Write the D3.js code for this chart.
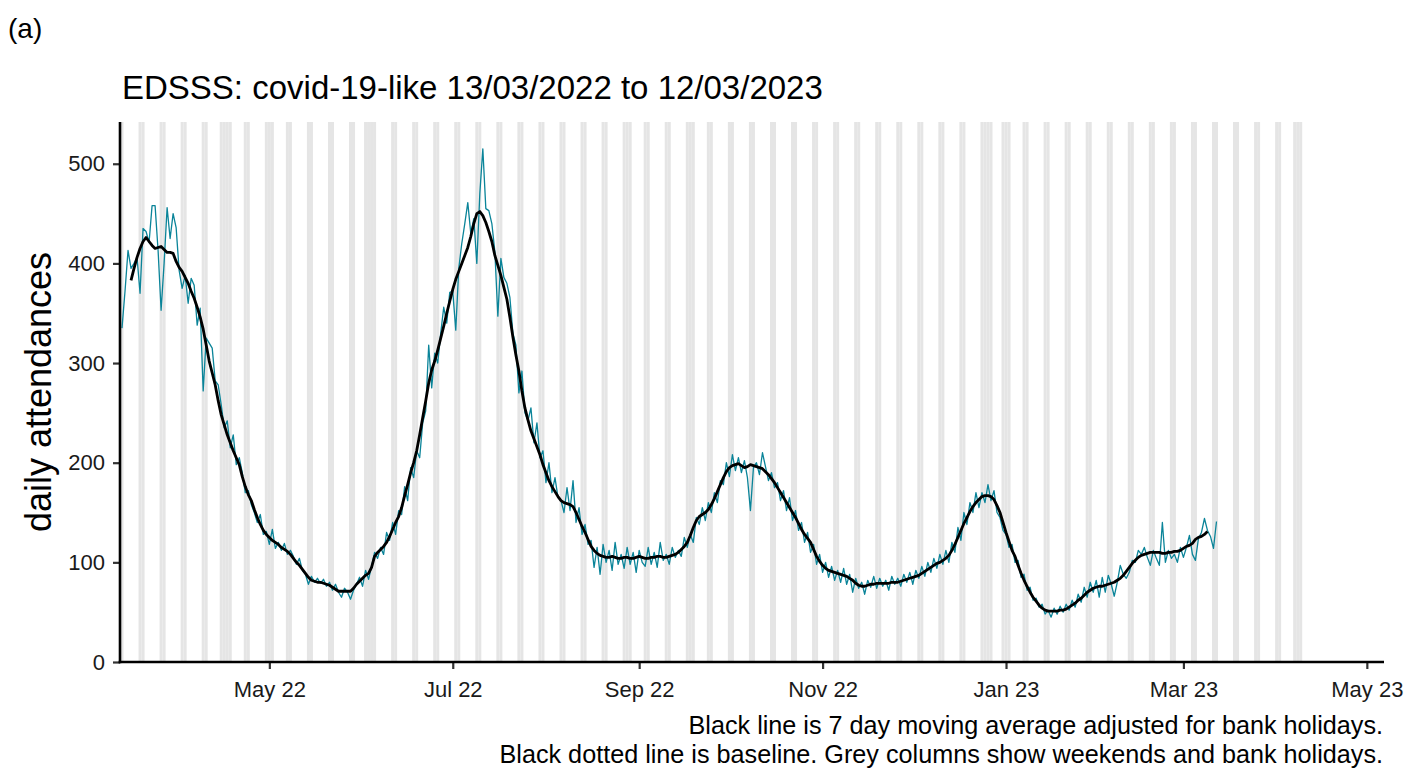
<!DOCTYPE html>
<html><head><meta charset="utf-8">
<script src="https://cdn.jsdelivr.net/npm/d3@7"></script>
<style>body{margin:0;background:#fff} svg{display:block;font-family:"Liberation Sans",Arial,sans-serif}</style>
</head><body><svg id="c" width="1422" height="769"></svg>
<script>
// ---------- data ----------
const startDate = "2022-03-13";
const dailyValues = [
335,372,413,395,400,406,370,435,432,421,
458,458,413,353,400,456,425,450,436,393,
375,388,360,385,378,338,355,272,325,320,
315,282,278,258,235,242,215,228,198,205,
190,170,172,158,150,140,148,128,131,118,
133,114,120,112,119,108,112,106,98,104,
92,88,78,86,80,84,79,83,76,80,
72,78,70,65,74,70,63,72,78,85,
76,92,83,96,110,104,115,108,130,122,
140,128,152,148,176,162,195,185,212,205,
240,252,318,275,310,300,330,356,340,371,
372,333,395,420,440,461,430,445,400,470,
515,455,453,440,412,347,405,386,380,366,
330,318,270,292,250,242,255,220,240,205,
212,180,200,170,185,165,162,150,175,152,
182,140,155,128,138,118,122,95,115,88,
118,100,112,92,120,98,108,94,115,98,
110,90,112,100,96,115,98,110,95,120,
102,108,98,115,105,112,106,125,115,128,
120,145,138,155,142,160,150,170,160,182,
178,200,186,208,192,205,190,202,185,152,
195,200,188,210,196,182,190,175,180,162,
172,152,165,142,152,132,140,120,130,110,
118,98,108,90,100,85,96,82,92,80,
94,78,88,70,84,74,80,68,82,75,
86,74,84,76,82,72,86,78,84,76,
88,80,90,78,92,84,96,86,100,90,
104,94,108,98,112,100,120,110,135,122,
150,138,160,150,170,155,170,160,178,162,
172,150,145,132,128,115,118,100,102,85,
88,72,75,62,64,55,58,48,52,45,
54,48,56,50,58,52,62,55,68,60,
75,65,80,70,82,65,85,70,87,78,
66,80,97,88,84,90,102,100,112,108,
115,105,97,112,104,97,140,100,112,104,
108,100,115,105,115,127,108,102,124,130,
144,132,126,114,141
];
const maStartDate = "2022-03-16";
const maValues = [
383,395,406,415,422,426,422,
418,415,416,417,414,411,411,410,402,396,
392,386,380,372,365,356,346,334,318,302,
290,278,262,248,238,228,220,212,205,198,
186,176,168,162,153,145,138,132,128,125,
122,120,118,115,113,111,108,104,100,97,
93,89,85,82,81,80,80,79,78,77,
75,73,71,71,71,71,71,74,78,81,
84,87,89,95,106,110,113,116,120,126,
133,140,146,155,167,178,190,200,212,228,
245,262,280,293,302,313,325,337,350,362,
374,384,392,400,408,416,427,440,450,452,
448,441,432,422,408,398,388,376,364,346,
326,308,292,272,255,243,232,224,216,208,
198,190,182,176,171,166,162,160,159,158,
156,150,143,136,130,123,116,112,109,107,
106,105,105,106,105,104,104,105,105,104,
104,105,106,105,104,104,105,105,106,106,
105,105,106,107,108,110,113,116,120,127,
135,142,146,148,150,153,158,164,171,178,
185,191,195,197,198,199,197,195,196,198,
197,196,195,194,191,188,184,180,175,170,
165,160,155,150,145,139,133,128,124,120,
113,106,101,97,94,92,91,90,89,88,
87,86,84,82,79,77,76,76,77,78,
78,79,79,79,79,79,80,80,80,81,
82,83,84,85,86,87,89,91,93,95,
97,99,100,102,104,107,112,118,125,132,
139,145,151,156,160,163,166,167,167,166,
163,157,150,140,130,121,112,106,97,89,
82,76,70,65,61,57,54,52,51,51,
51,51,52,52,53,55,57,59,62,64,
67,70,72,74,75,76,76,77,78,79,
80,82,84,87,91,95,99,102,105,107,
108,109,110,110,110,110,109,109,110,110,
111,111,112,114,116,117,119,123,125,126,
128,131
];
const greyStart = "2022-03-13";
const greyEnd = "2023-04-09";
const bankHolidays = ["2022-04-15","2022-04-18","2022-05-02","2022-06-02","2022-06-03",
  "2022-08-29","2022-09-19","2022-12-26","2022-12-27","2023-01-02","2023-04-07"];
const yTickValues = [0,100,200,300,400,500];
const xTickDates = ["2022-05-01","2022-07-01","2022-09-01","2022-11-01","2023-01-01","2023-03-01","2023-05-01"];
const labelTag = "(a)";
const titleText = "EDSSS: covid-19-like 13/03/2022 to 12/03/2023";
const yTitle = "daily attendances";
const captionLines = ["Black line is 7 day moving average adjusted for bank holidays.",
  "Black dotted line is baseline. Grey columns show weekends and bank holidays."];

// ---------- drawing ----------
const parse = d3.utcParse("%Y-%m-%d");
const DAY = 864e5;
const svg = d3.select("#c");
const L = 120, R = 1384, T = 122, B = 662;

const x = d3.scaleUtc()
  .domain([new Date(Date.UTC(2022,2,12,8)), new Date(Date.UTC(2023,4,6,17))])
  .range([L, R]);
const y = d3.scaleLinear().domain([0, 541.9]).range([B, T]);

const s0 = parse(startDate);
const daily = dailyValues.map((v,i)=>({date:new Date(+s0 + i*DAY), v}));
const m0 = parse(maStartDate);
const ma = maValues.map((v,i)=>({date:new Date(+m0 + i*DAY), v}));

const bh = new Set(bankHolidays);
const fmt = d3.utcFormat("%Y-%m-%d");
const greyDays = d3.utcDay.range(parse(greyStart), new Date(+parse(greyEnd)+DAY))
  .filter(d => d.getUTCDay()===0 || d.getUTCDay()===6 || bh.has(fmt(d)));

svg.append("g").selectAll("rect").data(greyDays).join("rect")
  .attr("x", d => x(new Date(+d - DAY/2)))
  .attr("width", d => x(new Date(+d + DAY/2)) - x(new Date(+d - DAY/2)))
  .attr("y", T).attr("height", B - T)
  .attr("fill", "#e5e5e5");

const line = d3.line().x(d=>x(d.date)).y(d=>y(d.v));
svg.append("path").datum(daily).attr("d", line)
  .attr("fill","none").attr("stroke","#0a8499").attr("stroke-width",1.3).attr("stroke-linejoin","round");
svg.append("path").datum(ma).attr("d", line)
  .attr("fill","none").attr("stroke","#000").attr("stroke-width",2.8).attr("stroke-linejoin","round");

// axes
const yAxis = svg.append("g").attr("transform",`translate(${L},0)`)
  .call(d3.axisLeft(y).tickValues(yTickValues).tickSize(7).tickPadding(8));
const xAxis = svg.append("g").attr("transform",`translate(0,${B})`)
  .call(d3.axisBottom(x).tickValues(xTickDates.map(parse)).tickFormat(d3.utcFormat("%b %y")).tickSize(7).tickPadding(12));
[yAxis, xAxis].forEach(g => {
  g.select(".domain").remove();
  g.selectAll(".tick line").attr("stroke","#333").attr("stroke-width",2.2);
  g.selectAll(".tick text").attr("fill","#1a1a1a").style("font-size","22px").style("font-family","Liberation Sans, Arial, sans-serif");
});
svg.append("line").attr("x1",L).attr("x2",L).attr("y1",T).attr("y2",B+1.3).attr("stroke","#000").attr("stroke-width",2.6);
svg.append("line").attr("x1",L-1.3).attr("x2",R).attr("y1",B).attr("y2",B).attr("stroke","#000").attr("stroke-width",2.6);

// texts
svg.append("text").attr("x",8).attr("y",38).text(labelTag).style("font-size","28px").attr("fill","#000");
svg.append("text").attr("x",122).attr("y",99).text(titleText).style("font-size","33px").attr("fill","#000");
svg.append("text").attr("transform",`translate(51,${(T+B)/2}) rotate(-90)`).attr("text-anchor","middle")
  .text(yTitle).style("font-size","36px").attr("fill","#000");
captionLines.forEach((t,i)=>{
  svg.append("text").attr("x",1383).attr("y",734+i*29).attr("text-anchor","end")
    .text(t).style("font-size","25.2px").attr("fill","#000");
});
</script></body></html>
